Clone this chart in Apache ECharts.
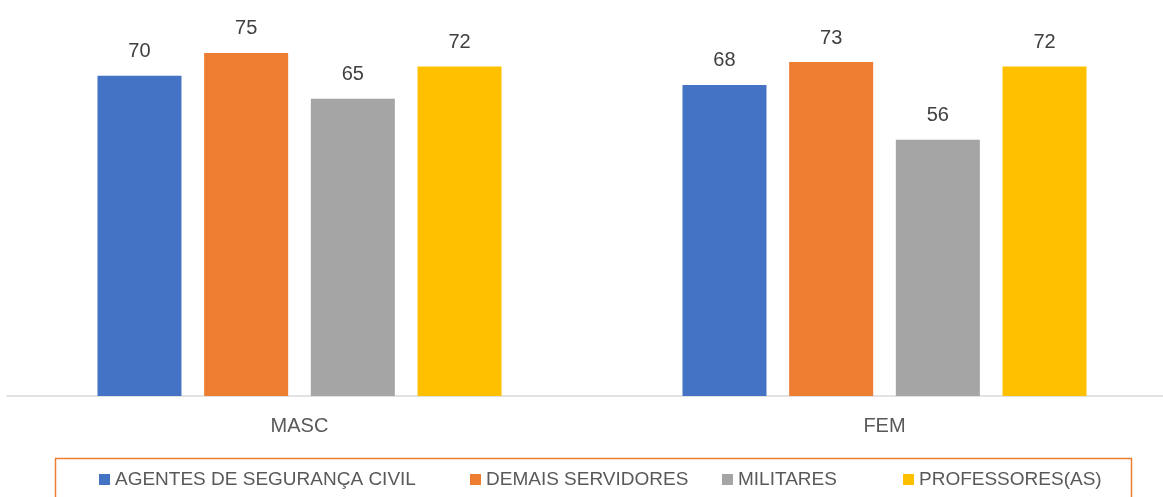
<!DOCTYPE html>
<html>
<head>
<meta charset="utf-8">
<style>
  html, body { margin: 0; padding: 0; background: #fff; }
  #chart { width: 1163px; height: 497px; }
</style>
<script src="https://cdn.jsdelivr.net/npm/echarts@6/dist/echarts.min.js"></script>
</head>
<body>
<div id="chart"></div>
<script>
// Categorias e valores
const categorias = ['MASC', 'FEM'];
const agentes = [70, 68];
const demais = [75, 73];
const militares = [65, 56];
const professores = [72, 72];

const nomes = ['AGENTES DE SEGURANÇA CIVIL', 'DEMAIS SERVIDORES', 'MILITARES', 'PROFESSORES(AS)'];
const cores = ['#4472C4', '#ED7D31', '#A5A5A5', '#FFC000'];
const valores = [agentes, demais, militares, professores];
// posicao horizontal de cada item da legenda, como no original
const legendaX = [99, 470, 722, 903];

const FONT = '"Liberation Sans", Arial, sans-serif';

const chart = echarts.init(document.getElementById('chart'), null, { renderer: 'canvas' });

chart.setOption({
  animation: false,
  textStyle: { fontFamily: FONT },
  grid: {
    left: 7, width: 1170, top: 30, bottom: 101,
    containLabel: false, outerBoundsMode: 'none',
  },
  // uma legenda por item para manter o espacamento do original
  legend: nomes.map((n, i) => ({
    data: [n],
    left: legendaX[i], top: 470, padding: 0,
    itemWidth: 11, itemHeight: 11, icon: 'rect',
    textStyle: { color: '#595959', fontSize: 19, fontFamily: FONT },
  })),
  // moldura laranja da legenda
  graphic: [{
    type: 'rect', left: 53, top: 456,
    shape: { width: 1076, height: 60 },
    style: { fill: 'none', stroke: '#ED7D31', lineWidth: 1.5 },
    silent: true,
  }],
  xAxis: {
    type: 'category', data: categorias,
    axisLine: { lineStyle: { color: '#D9D9D9', width: 1.5 } },
    axisTick: { show: false },
    axisLabel: { color: '#595959', fontSize: 20, margin: 20, fontFamily: FONT },
  },
  yAxis: { type: 'value', min: 0, max: 80, show: false, splitLine: { show: false } },
  series: valores.map((v, i) => ({
    name: nomes[i], type: 'bar', data: v,
    barWidth: 84, barGap: '27%',
    itemStyle: { color: cores[i] },
    label: {
      show: true, position: 'top', distance: 14,
      color: '#404040', fontSize: 20, fontFamily: FONT,
    },
  })),
});
</script>
</body>
</html>
